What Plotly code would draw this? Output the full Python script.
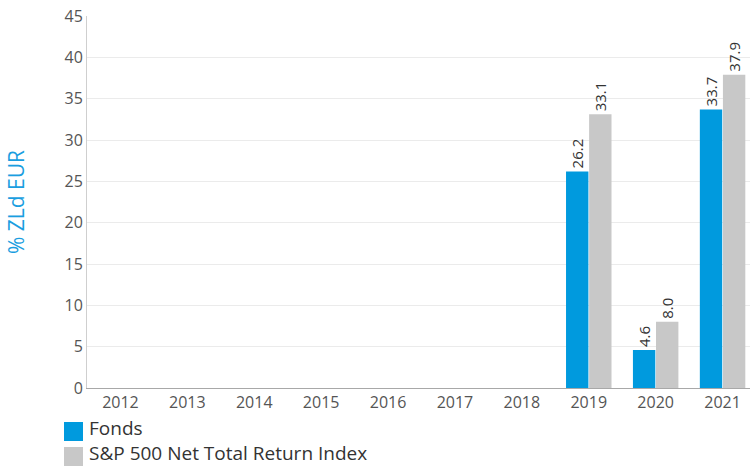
import plotly.graph_objects as go

years = ["2012", "2013", "2014", "2015", "2016", "2017", "2018", "2019", "2020", "2021"]
fonds = [None, None, None, None, None, None, None, 26.2, 4.6, 33.7]
index = [None, None, None, None, None, None, None, 33.1, 8.0, 37.9]
fonds_name = "Fonds"
index_name = "S&P 500 Net Total Return Index"
fonds_color = "#009ADE"
index_color = "#C8C8C8"

font_family = "'Open Sans', sans-serif"

W, H = 750, 468
L, R, T, B = 87, 0, 16, 80
pw, ph = W - L - R, H - T - B


def px_x(p):
    return (p - L) / pw


def px_y(p):
    return (H - B - p) / ph


fig = go.Figure()
for name, vals, col in [(fonds_name, fonds, fonds_color), (index_name, index, index_color)]:
    fig.add_trace(go.Bar(
        x=years, y=vals, name=name, marker=dict(color=col, line=dict(width=0)),
        text=[f"{v:.1f}" if v is not None else "" for v in vals],
        textposition="outside", textangle=-90, cliponaxis=False, constraintext="none",
        textfont=dict(size=15, color="#333333", family=font_family),
        showlegend=False,
    ))

# legend (drawn manually to match square size)
for i, col in enumerate([fonds_color, index_color]):
    top = 422 + i * 25
    fig.add_shape(type="rect", xref="paper", yref="paper",
                  x0=px_x(64), x1=px_x(83), y0=px_y(top + 19), y1=px_y(top),
                  fillcolor=col, line=dict(width=0))
fig.add_annotation(xref="paper", yref="paper", x=px_x(88), y=px_y(H - 0.5),
                   xanchor="left", yanchor="bottom", align="left", showarrow=False,
                   borderpad=0, text=f"{fonds_name}<br>{index_name}",
                   font=dict(size=19, color="#333333", family=font_family))

fig.update_layout(
    width=W, height=H,
    margin=dict(l=L, r=R, t=T, b=B, autoexpand=False),
    paper_bgcolor="white", plot_bgcolor="white",
    font=dict(family=font_family, color="#555555"),
    barmode="group", bargap=0.31, bargroupgap=0.03,
    showlegend=False,
)
fig.update_xaxes(
    type="category", range=[-0.5, 9.41], automargin=False,
    showline=True, linecolor="#A8A8A8", linewidth=1,
    showgrid=False, ticks="", tickfont=dict(size=16, color="#555555"),
)
fig.update_yaxes(
    range=[0, 45], dtick=5, showgrid=True, gridcolor="#EBEBEB", gridwidth=1,
    showline=True, linecolor="#CFCFCF", linewidth=1, zeroline=False, automargin=False,
    ticks="", tickfont=dict(size=16, color="#555555"),
    title=dict(text="% ZLd EUR", font=dict(size=21, color="#1A9EE0"), standoff=34),
)

fig.write_html("out.html", config={"displayModeBar": False},
               post_script="document.body.style.margin='0';")
